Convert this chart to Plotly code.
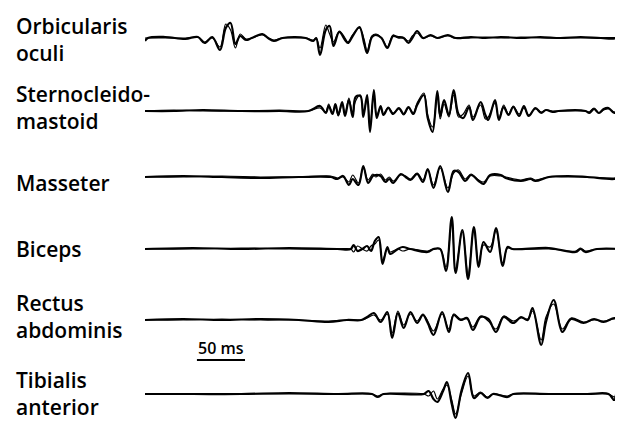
import plotly.graph_objects as go

# ---------------- data (time in ms, amplitude in arbitrary units; two superimposed trials A/B) ----------------
muscle_labels = ["Orbicularis<br>oculi", "Sternocleido-<br>mastoid", "Masseter", "Biceps",
                 "Rectus<br>abdominis", "Tibialis<br>anterior"]

oo_t = [0,3,21,42,55,62,70,78,84,89,94,99,105,111,122,128,134,143,156,167,175,178,182,188,192,196,202,208,211,216,
        223,228,231,236,240,246,252,258,263,269,274,278,283,289,297,304,315,323,339,354,370,391,411,432,453,474,490,493,495]
oo_a = [-3,0,1,-1,1,-5,1,-12,10,15,-6,2,-2,0,4,0,-3,0,1,0,-3,0,-17,8,12,-8,6,-2,-5,2,
        11,-6,-15,1,3,0,-10,2,1,0,-5,0,7,0,3,0,3,0,1,0,1,0,1,0,1,0,0,3,0]
oo_b = [0,0,0,0,1,-4,0,-9,14,8,-10,4,-1,0,3,0,-2,0,0,0,-2,0,-10,13,4,-4,7,0,-4,3,
        10,-2,-13,2,4,0,-9,3,0,0,-3,2,5,0,2,0,2,0,0,1,0,1,0,0,0,0,0,-3,0]

scm_t = [0,30,60,100,140,170,182,188,191,195,198,201,205,208,212,216,219,224,227,231,234,238,241,245,248,253,258,264,269,274,
         279,283,290,294,299,304,307,311,316,321,326,331,337,341,349,354,357,364,368,373,378,383,389,394,399,406,412,417,424,430,
         458,462,467,472,477,482,488,493,495]
scm_a = [0,0,1,0,0,0,5,-2,5,-3,7,-4,9,-5,11,-6,14,15,-6,16,-21,21,-7,5,-4,3,-3,3,-3,4,
         -3,6,16,-7,-21,20,-5,11,-4,21,-3,-7,4,-9,9,-4,-9,11,-9,4,-4,4,-5,5,-5,3,-2,1,-1,0,
         0,-2,2,-2,2,3,-2,1,0]
scm_b = [0,1,0,0,1,0,3,-1,7,-2,5,-5,7,-3,13,-4,10,16,-3,12,-15,17,-4,3,-3,4,-2,2,-4,3,
         -2,8,18,-4,-16,15,-8,7,-6,16,-6,-3,6,-6,6,-8,-6,8,-7,6,-3,5,-3,3,-4,2,-1,1,0,0,
         0,-1,3,-2,1,2,-1,1,0]

mas_t = [0,40,80,120,160,193,200,206,212,216,222,227,232,237,240,245,250,254,258,266,271,276,283,289,294,300,307,315,321,326,
         333,339,347,352,359,370,375,391,401,406,420,440,460,488,495]
mas_a = [0,1,0,-1,0,0,-2,1,-8,-2,-8,11,-6,1,2,1,-5,-2,-6,3,0,-3,3,-5,8,-11,11,-15,6,5,
         -4,2,-4,-7,2,2,-1,-4,-2,-4,0,1,0,-2,0]
mas_b = [0,0,1,0,0,1,-1,0,-5,2,-6,9,-3,3,0,3,-3,0,-4,2,1,-2,4,-3,7,-8,9,-11,4,7,
         -2,3,-3,-5,1,1,0,-3,-1,-3,0,0,0,-1,0]

bic_t = [0,50,100,150,200,214,217,221,226,231,235,239,243,247,252,255,263,268,276,294,300,307,313,319,323,330,336,342,347,352,
         359,365,372,377,382,420,448,453,458,470,495]
bic_a = [0,1,0,1,0,0,4,-2,0,3,-2,8,12,-15,2,-5,0,2,0,-3,0,0,-22,32,-24,19,-30,22,-18,7,
         -3,21,-17,2,0,1,-3,0,-3,0,0]
bic_b = [0,0,1,0,0,0,-3,3,0,-2,3,5,9,-11,0,-3,0,-2,0,-2,0,0,-18,28,-20,17,-25,20,-15,4,
         2,18,-14,1,0,0,-2,1,-2,0,0]

rec_t = [0,40,80,120,160,191,210,225,231,238,245,252,257,263,269,276,283,289,294,300,309,316,321,328,335,341,349,357,365,373,
         383,391,398,403,412,417,425,434,443,456,467,477,488,495]
rec_a = [0,1,0,1,0,-2,0,0,3,7,-2,8,-18,7,-8,8,-3,5,-3,-15,8,-12,5,0,2,-10,3,1,-12,3,
         -3,3,0,12,-25,-2,20,-12,1,-3,1,-2,2,0]
rec_b = [0,0,1,0,0,-1,0,0,2,5,0,6,-13,9,-5,6,-1,6,-1,-11,6,-9,6,1,1,-7,4,-1,-9,4,
         -1,2,1,9,-20,3,16,-9,2,-2,0,-1,1,0]

tib_t = [0,50,100,150,200,236,242,248,290,295,300,304,310,314,319,323,329,336,342,349,356,362,377,383,420,460,482,488,491,495]
tib_a = [0,0,0,1,0,0,-3,0,0,3,-5,-8,3,12,-10,-24,3,21,-4,1,-4,0,-3,0,0,0,0,-6,2,0]
tib_b = [0,0,0,0,0,0,-2,0,0,-2,3,-5,5,9,-6,-20,0,18,-2,2,-3,0,-2,0,0,0,0,-3,-1,0]

scale_bar_ms = 50
scale_bar_label = "50 ms"

series = [(oo_t, oo_a, oo_b), (scm_t, scm_a, scm_b), (mas_t, mas_a, mas_b),
          (bic_t, bic_a, bic_b), (rec_t, rec_a, rec_b), (tib_t, tib_a, tib_b)]
for t, a, b in series:
    assert len(t) == len(a) == len(b), (len(t), len(a), len(b))

# ---------------- layout constants (page pixels; the page body adds an 8 px margin) ----------------
PAGE_OFF = 8
W, H = 623 - PAGE_OFF, 421 - PAGE_OFF
BASE_PX = [38, 111, 177, 249, 320, 394]      # baseline pixel row of each trace (page coords)
LABEL_PX = [39, 107, 183, 249, 316, 393]     # label block centre rows (page coords)
R = 36
FONT = "Open Sans"


def px_x(p):
    return (p - PAGE_OFF) / W


def px_y(p):
    return 1 - (p - PAGE_OFF) / H


fig = go.Figure()
layout = dict(
    width=W, height=H, margin=dict(l=0, r=0, t=0, b=0, pad=0), autosize=False,
    paper_bgcolor="white", plot_bgcolor="white", showlegend=False,
    xaxis=dict(domain=[px_x(145), px_x(621)], range=[0, 495], visible=False, fixedrange=True),
)

for i, (t, a, b) in enumerate(series):
    yname = "y" if i == 0 else f"y{i+1}"
    lname = "yaxis" if i == 0 else f"yaxis{i+1}"
    c = px_y(BASE_PX[i])
    d0 = max(0.0, c - R / H)
    d1 = min(1.0, c + R / H)
    layout[lname] = dict(domain=[d0, d1], range=[-(c - d0) * H, (d1 - c) * H],
                         visible=False, anchor="x", fixedrange=True)
    fig.add_trace(go.Scatter(x=t, y=b, mode="lines", xaxis="x", yaxis=yname, hoverinfo="skip",
                             line=dict(color="black", width=1.2, shape="spline", smoothing=1)))
    fig.add_trace(go.Scatter(x=t, y=a, mode="lines", xaxis="x", yaxis=yname, hoverinfo="skip",
                             line=dict(color="black", width=2.2, shape="spline", smoothing=1)))

annotations = []
for lab, py in zip(muscle_labels, LABEL_PX):
    annotations.append(dict(text=lab, xref="paper", yref="paper", x=px_x(14), y=px_y(py),
                            xanchor="left", yanchor="middle", align="left", showarrow=False,
                            font=dict(family=FONT, size=21, color="black", weight=600)))

sb_x0 = 54
annotations.append(dict(text=scale_bar_label, xref="x", yref="paper", x=sb_x0 + scale_bar_ms / 2,
                        y=px_y(348), xanchor="center", yanchor="middle", showarrow=False,
                        font=dict(family=FONT, size=16, color="black", weight=600)))
layout["annotations"] = annotations
layout["shapes"] = [dict(type="line", xref="x", yref="paper", x0=sb_x0, x1=sb_x0 + scale_bar_ms,
                         y0=px_y(360), y1=px_y(360), line=dict(color="black", width=2))]

fig.update_layout(**layout)
fig.write_html("out.html")
